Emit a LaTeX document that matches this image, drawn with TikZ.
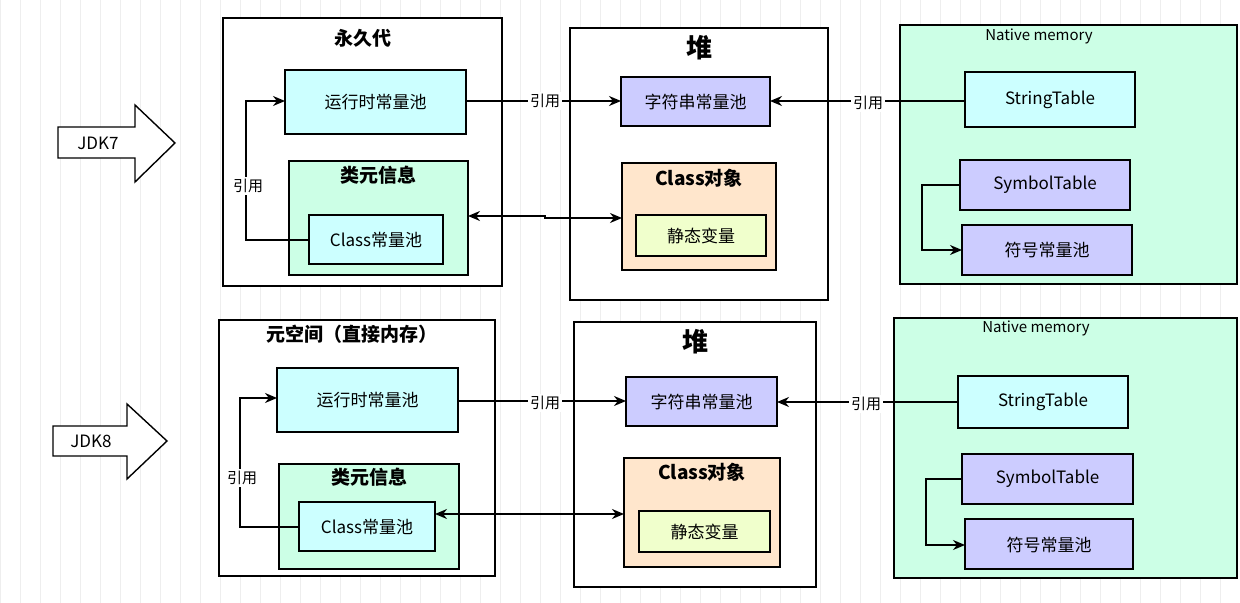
\documentclass[tikz,border=0pt]{standalone}
\usepackage{fontspec}
\setmainfont{Noto Sans CJK SC}
\usetikzlibrary{arrows.meta}
\definecolor{cyanf}{HTML}{CCFFFF}
\definecolor{greenf}{HTML}{CCFFE6}
\definecolor{purf}{HTML}{CCCCFF}
\definecolor{orf}{HTML}{FFE6CC}
\definecolor{yelf}{HTML}{F0FFCC}
\definecolor{gridc}{HTML}{EEEEEE}
\begin{document}
\begin{tikzpicture}[x=0.5pt,y=-0.5pt,
 bx/.style={draw,line width=0.8pt,inner sep=0pt},
 t/.style={font=\fontsize{8.5}{10}\selectfont},
 ttl/.style={font=\fontsize{9.5}{11}\selectfont\bfseries},
 heap/.style={font=\fontsize{13}{15}\selectfont\bfseries},
 small/.style={font=\fontsize{7.5}{9}\selectfont},
 ar/.style={line width=0.8pt,-{Stealth[length=6pt,width=5pt]}},
 dar/.style={line width=0.8pt,{Stealth[length=6pt,width=5pt]}-{Stealth[length=6pt,width=5pt]}},
 lab/.style={fill=white,inner sep=1pt,font=\fontsize{7.5}{9}\selectfont}]
\useasboundingbox (0,0) rectangle (1240,603);
\fill[white] (0,0) rectangle (1240,603);
\draw[gridc,line width=0.4pt,step=20] (0,0) grid (1240,603);
% ---------- TOP ----------
\draw[fill=white,line width=0.7pt] (58,127)--(135,127)--(135,105)--(175,143)--(135,182)--(135,158)--(58,158)--cycle;
\node[t] (jdk7) at (98,143) {JDK7};
\draw[bx,fill=white] (223,18) rectangle (502,286);
\node[ttl] (pg) at (363,38) {永久代};
\draw[bx,fill=cyanf] (285,70) rectangle (466,134); \node[t] (rc1) at (375.5,102) {运行时常量池};
\draw[bx,fill=greenf] (289,161) rectangle (468,275); \node[ttl] (km1) at (378,175) {类元信息};
\draw[bx,fill=cyanf] (309,215) rectangle (443,264); \node[t] (cc1) at (376,240) {Class常量池};
\draw[bx,fill=white] (570,28) rectangle (828,300); \node[heap] (h1) at (699,48) {堆};
\draw[bx,fill=purf] (621,77) rectangle (770,126); \node[t] (sp1) at (695.5,101.5) {字符串常量池};
\draw[bx,fill=orf] (622,163) rectangle (776,270); \node[ttl] (co1) at (699,178) {Class对象};
\draw[bx,fill=yelf] (636,215) rectangle (766,256); \node[t] (sv1) at (701,236) {静态变量};
\draw[bx,fill=greenf] (900,25) rectangle (1237,284); \node[small] (nm1) at (1039,36) {Native memory};
\draw[bx,fill=cyanf] (965,72) rectangle (1135,127); \node[t] (st1) at (1050,100) {StringTable};
\draw[bx,fill=purf] (960,160) rectangle (1130,210); \node[t] (sy1) at (1045,185) {SymbolTable};
\draw[bx,fill=purf] (962,225) rectangle (1132,275); \node[t] (fh1) at (1047,250) {符号常量池};
\coordinate (a1) at (309,240); \coordinate (a2) at (285,101);
\draw[ar] (a1) -- (246,240) -- (246,101) -- (a2);
\node[lab] (y1) at (248,186) {引用};
\draw[ar] (466,101) -- (621,101); \node[lab] (y2) at (545,101) {引用};
\draw[ar] (965,101) -- (770,101); \node[lab] (y3) at (868,103) {引用};
\draw[dar] (468,216) -- (545,216) -- (545,218) -- (622,218);
\draw[ar] (960,185) -- (922,185) -- (922,250) -- (962,250);
% ---------- BOTTOM ----------
\draw[fill=white,line width=0.7pt] (53,426)--(127,426)--(127,404)--(167,441)--(127,479)--(127,456)--(53,456)--cycle;
\node[t] (jdk8) at (91,441) {JDK8};
\draw[bx,fill=white] (219,320) rectangle (495,576);
\node[ttl] (ms) at (352,334) {元空间（直接内存）};
\draw[bx,fill=cyanf] (277,368) rectangle (458,432); \node[t] (rc2) at (367.5,400) {运行时常量池};
\draw[bx,fill=greenf] (279,464) rectangle (459,569); \node[ttl] (km2) at (369,477) {类元信息};
\draw[bx,fill=cyanf] (299,502) rectangle (435,551); \node[t] (cc2) at (367,527) {Class常量池};
\draw[bx,fill=white] (574,322) rectangle (816,587); \node[heap] (h2) at (695,342) {堆};
\draw[bx,fill=purf] (626,377) rectangle (777,426); \node[t] (sp2) at (701.5,401.5) {字符串常量池};
\draw[bx,fill=orf] (624,458) rectangle (780,567); \node[ttl] (co2) at (702,472) {Class对象};
\draw[bx,fill=yelf] (639,511) rectangle (770,552); \node[t] (sv2) at (704.5,532) {静态变量};
\draw[bx,fill=greenf] (894,318) rectangle (1237,578); \node[small] (nm2) at (1036,328) {Native memory};
\draw[bx,fill=cyanf] (958,376) rectangle (1128,428); \node[t] (st2) at (1043,402) {StringTable};
\draw[bx,fill=purf] (962,454) rectangle (1133,504); \node[t] (sy2) at (1047.5,479) {SymbolTable};
\draw[bx,fill=purf] (965,519) rectangle (1133,569); \node[t] (fh2) at (1049,545) {符号常量池};
\draw[ar] (299,527) -- (240,527) -- (240,398) -- (277,398);
\node[lab] (y4) at (242,478) {引用};
\draw[ar] (458,401) -- (626,401); \node[lab] (y5) at (545,403) {引用};
\draw[ar] (958,402) -- (777,402); \node[lab] (y6) at (866,404) {引用};
\draw[dar] (435,514) -- (624,514);
\draw[ar] (962,479) -- (926,479) -- (926,545) -- (965,545);
\end{tikzpicture}
\end{document}
